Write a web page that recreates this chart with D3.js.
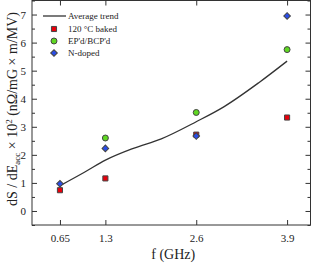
<!DOCTYPE html>
<html>
<head>
<meta charset="utf-8">
<script src="https://cdn.jsdelivr.net/npm/d3@7"></script>
<style>
  body { margin: 0; background: #fff; }
  svg { display: block; font-family: "Liberation Serif", "DejaVu Serif", serif; }
</style>
</head>
<body>
<div id="chart"></div>
<script>
// frequencies (GHz)
const freqs = [0.65, 1.3, 2.6, 3.9];
// series values, dS/dEacc x 10^2
const baked = [0.74, 1.16, 2.72, 3.33];
const epBcp = [null, 2.60, 3.51, 5.75];
const nDoped = [0.97, 2.23, 2.67, 6.95];
// average trend curve
const trendF = [0.65, 1.0, 1.3, 1.7, 2.1, 2.6, 3.0, 3.5, 3.9];
const trendV = [0.90, 1.38, 1.81, 2.23, 2.57, 3.18, 3.72, 4.58, 5.34];
const yTicks = [0, 1, 2, 3, 4, 5, 6, 7];
const yMinor = [-0.5, 0.5, 1.5, 2.5, 3.5, 4.5, 5.5, 6.5, 7.5];

const width = 312, height = 265;
const plotL = 32, plotR = 310.5, plotT = 0.5, plotB = 225;

const svg = d3.select('#chart').append('svg')
  .attr('width', width)
  .attr('height', height);

const x = d3.scaleLinear().domain([0.25, 4.235]).range([plotL, plotR]);
const y = d3.scaleLinear().domain([-0.5, 7.5]).range([plotB, plotT]);

// frame
svg.append('rect')
  .attr('x', plotL).attr('y', plotT)
  .attr('width', plotR - plotL).attr('height', plotB - plotT)
  .attr('fill', 'none').attr('stroke', '#333').attr('stroke-width', 1);

function styleAxis(g) {
  g.select('.domain').remove();
  g.selectAll('line').attr('stroke', '#333');
  g.selectAll('text').attr('fill', '#222').attr('font-size', 11);
}

// bottom axis, ticks inward
svg.append('g').attr('transform', `translate(0,${plotB})`)
  .call(d3.axisBottom(x).tickValues(freqs).tickFormat(d => d).tickSizeInner(-5).tickSizeOuter(0).tickPadding(9))
  .call(styleAxis)
  .attr('font-family', null);
// top axis ticks
svg.append('g').attr('transform', `translate(0,${plotT})`)
  .call(d3.axisTop(x).tickValues(freqs).tickSizeInner(-5).tickSizeOuter(0).tickFormat(''))
  .call(styleAxis);
// left axis
svg.append('g').attr('transform', `translate(${plotL},0)`)
  .call(d3.axisLeft(y).tickValues(yTicks).tickFormat(d => String(d)).tickSizeInner(-5).tickSizeOuter(0).tickPadding(6))
  .call(styleAxis)
  .attr('font-family', null);
svg.append('g').attr('transform', `translate(${plotL},0)`)
  .call(d3.axisLeft(y).tickValues(yMinor).tickFormat('').tickSizeInner(-3).tickSizeOuter(0))
  .call(styleAxis);
// right axis
svg.append('g').attr('transform', `translate(${plotR},0)`)
  .call(d3.axisRight(y).tickValues(yTicks).tickFormat('').tickSizeInner(-5).tickSizeOuter(0))
  .call(styleAxis);
svg.append('g').attr('transform', `translate(${plotR},0)`)
  .call(d3.axisRight(y).tickValues(yMinor).tickFormat('').tickSizeInner(-3).tickSizeOuter(0))
  .call(styleAxis);

// trend line
const line = d3.line()
  .x((d, i) => x(trendF[i]))
  .y(d => y(d))
  .curve(d3.curveMonotoneX);
svg.append('path')
  .attr('d', line(trendV))
  .attr('fill', 'none').attr('stroke', '#333').attr('stroke-width', 1.3);

// markers
const sq = d3.symbol().type(d3.symbolSquare).size(26);
const circ = d3.symbol().type(d3.symbolCircle).size(28);
const dia = d3.symbol().type(d3.symbolSquare).size(22);

function drawSeries(vals, sym, color, rot) {
  svg.append('g').selectAll('path')
    .data(vals.map((v, i) => ({ f: freqs[i], v })).filter(d => d.v != null))
    .join('path')
    .attr('transform', d => `translate(${x(d.f)},${y(d.v)}) rotate(${rot})`)
    .attr('d', sym)
    .attr('fill', color)
    .attr('stroke', '#444').attr('stroke-width', 1);
}
drawSeries(baked, sq, '#e8000b', 0);
drawSeries(epBcp, circ, '#5fd822', 0);
drawSeries(nDoped, dia, '#2a4de8', 45);

// legend
const lg = svg.append('g').attr('font-size', 9).attr('fill', '#222');
lg.append('line').attr('x1', 43).attr('x2', 66).attr('y1', 16).attr('y2', 16)
  .attr('stroke', '#333').attr('stroke-width', 1.3);
lg.append('text').attr('x', 68).attr('y', 19).text('Average trend');
const legendItems = [
  { sym: sq, color: '#e8000b', rot: 0, label: '120 °C baked' },
  { sym: circ, color: '#5fd822', rot: 0, label: 'EP\'d/BCP\'d' },
  { sym: dia, color: '#2a4de8', rot: 45, label: 'N-doped' }
];
legendItems.forEach((d, i) => {
  const yy = 29 + i * 12;
  lg.append('path').attr('transform', `translate(54,${yy}) rotate(${d.rot})`).attr('d', d.sym)
    .attr('fill', d.color).attr('stroke', '#444').attr('stroke-width', 1);
  lg.append('text').attr('x', 68).attr('y', yy + 3).text(d.label);
});

// axis titles
svg.append('text')
  .attr('x', (plotL + plotR) / 2 + 2).attr('y', 259)
  .attr('text-anchor', 'middle').attr('font-size', 14).attr('fill', '#222')
  .text('f (GHz)');

const yt = svg.append('text')
  .attr('transform', `translate(17,109) rotate(-90)`)
  .attr('text-anchor', 'middle').attr('font-size', 14).attr('fill', '#222');
yt.append('tspan').text('dS / dE');
yt.append('tspan').attr('font-size', 9).attr('dy', 3).text('acc');
yt.append('tspan').attr('dy', -3).text(' × 10');
yt.append('tspan').attr('font-size', 9).attr('dy', -5).text('2');
yt.append('tspan').attr('dy', 5).text(' (nΩ/mG × m/MV)');
</script>
</body>
</html>
